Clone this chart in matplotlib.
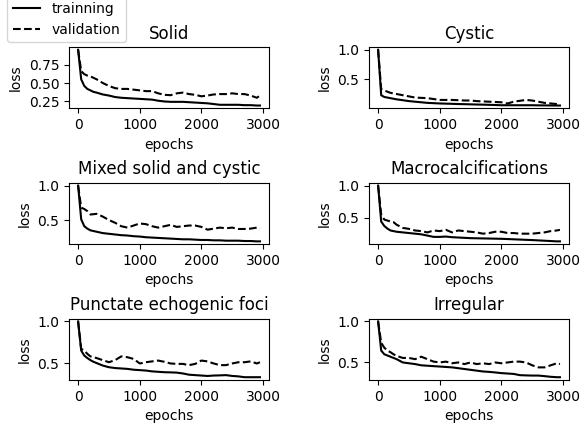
import matplotlib
matplotlib.use("Agg")
import matplotlib.pyplot as plt

epochs = [0, 50, 100, 150, 200, 250, 300, 400, 500, 600, 700, 800, 900, 1000,
          1100, 1200, 1300, 1400, 1500, 1600, 1700, 1800, 1900, 2000, 2100,
          2200, 2300, 2400, 2500, 2600, 2700, 2800, 2900, 2950]

titles = ["Solid", "Cystic", "Mixed solid and cystic", "Macrocalcifications",
          "Punctate echogenic foci", "Irregular"]

solid_train = [0.95, 0.55, 0.46, 0.42, 0.40, 0.38, 0.37, 0.345, 0.33, 0.31, 0.30, 0.295,
               0.29, 0.285, 0.28, 0.275, 0.26, 0.25, 0.245, 0.245, 0.245, 0.24, 0.235,
               0.23, 0.225, 0.215, 0.205, 0.205, 0.205, 0.205, 0.20, 0.20, 0.195, 0.195]
solid_val = [0.95, 0.66, 0.62, 0.60, 0.59, 0.57, 0.55, 0.50, 0.46, 0.43, 0.42, 0.42,
             0.41, 0.40, 0.39, 0.39, 0.36, 0.34, 0.335, 0.36, 0.37, 0.35, 0.34,
             0.32, 0.33, 0.345, 0.35, 0.35, 0.36, 0.35, 0.35, 0.33, 0.30, 0.33]

cystic_train = [1.0, 0.23, 0.20, 0.19, 0.18, 0.17, 0.16, 0.145, 0.13, 0.12, 0.11, 0.10,
                0.095, 0.09, 0.087, 0.084, 0.08, 0.078, 0.075, 0.072, 0.07, 0.067, 0.064,
                0.06, 0.06, 0.06, 0.06, 0.06, 0.06, 0.058, 0.057, 0.056, 0.055, 0.055]
cystic_val = [1.0, 0.33, 0.31, 0.29, 0.27, 0.26, 0.25, 0.23, 0.21, 0.19, 0.185, 0.18,
              0.165, 0.15, 0.15, 0.15, 0.145, 0.14, 0.14, 0.13, 0.125, 0.12, 0.115,
              0.11, 0.09, 0.12, 0.135, 0.15, 0.14, 0.12, 0.10, 0.09, 0.08, 0.08]

mixed_train = [1.0, 0.51, 0.41, 0.375, 0.35, 0.34, 0.33, 0.31, 0.30, 0.29, 0.28, 0.275,
               0.265, 0.26, 0.25, 0.245, 0.24, 0.235, 0.23, 0.225, 0.22, 0.22, 0.215,
               0.21, 0.21, 0.205, 0.205, 0.20, 0.20, 0.20, 0.195, 0.195, 0.19, 0.19]
mixed_val = [1.0, 0.68, 0.66, 0.63, 0.58, 0.585, 0.59, 0.55, 0.50, 0.46, 0.41, 0.39,
             0.42, 0.45, 0.44, 0.41, 0.39, 0.41, 0.43, 0.40, 0.41, 0.42, 0.42,
             0.40, 0.36, 0.375, 0.39, 0.38, 0.39, 0.37, 0.37, 0.375, 0.39, 0.375]

macro_train = [1.0, 0.44, 0.37, 0.33, 0.30, 0.29, 0.28, 0.27, 0.26, 0.25, 0.24, 0.22,
               0.20, 0.20, 0.205, 0.195, 0.19, 0.185, 0.18, 0.178, 0.176, 0.174, 0.172,
               0.17, 0.166, 0.162, 0.158, 0.154, 0.15, 0.145, 0.14, 0.135, 0.13, 0.13]
macro_val = [1.0, 0.55, 0.47, 0.455, 0.44, 0.43, 0.39, 0.34, 0.325, 0.30, 0.29, 0.27,
             0.30, 0.29, 0.31, 0.27, 0.30, 0.29, 0.28, 0.27, 0.25, 0.26, 0.28,
             0.28, 0.26, 0.26, 0.25, 0.25, 0.25, 0.26, 0.27, 0.29, 0.30, 0.31]

punct_train = [1.0, 0.65, 0.59, 0.56, 0.535, 0.515, 0.50, 0.47, 0.45, 0.44, 0.435, 0.43,
               0.42, 0.415, 0.41, 0.40, 0.395, 0.39, 0.388, 0.385, 0.375, 0.36, 0.355,
               0.35, 0.345, 0.35, 0.352, 0.355, 0.345, 0.34, 0.33, 0.33, 0.33, 0.33]
punct_val = [1.0, 0.67, 0.65, 0.61, 0.58, 0.57, 0.56, 0.535, 0.51, 0.535, 0.58, 0.57,
             0.55, 0.495, 0.51, 0.52, 0.53, 0.515, 0.495, 0.49, 0.49, 0.475, 0.49,
             0.53, 0.52, 0.495, 0.475, 0.475, 0.495, 0.51, 0.51, 0.52, 0.495, 0.51]

irreg_train = [1.0, 0.645, 0.60, 0.585, 0.57, 0.555, 0.54, 0.50, 0.49, 0.48, 0.465, 0.46,
               0.455, 0.45, 0.445, 0.44, 0.43, 0.42, 0.41, 0.40, 0.39, 0.385, 0.378,
               0.37, 0.365, 0.36, 0.345, 0.342, 0.34, 0.34, 0.333, 0.325, 0.32, 0.32]
irreg_val = [1.0, 0.74, 0.68, 0.645, 0.625, 0.60, 0.58, 0.555, 0.555, 0.54, 0.57, 0.54,
             0.51, 0.50, 0.51, 0.49, 0.50, 0.48, 0.50, 0.48, 0.49, 0.48, 0.50,
             0.49, 0.50, 0.51, 0.51, 0.50, 0.465, 0.44, 0.44, 0.465, 0.49, 0.48]

train_series = [solid_train, cystic_train, mixed_train, macro_train, punct_train, irreg_train]
val_series = [solid_val, cystic_val, mixed_val, macro_val, punct_val, irreg_val]

fig, axes = plt.subplots(3, 2, figsize=(5.82, 4.26), dpi=100)
fig.subplots_adjust(left=0.1186, right=0.9777, top=0.8897, bottom=0.108,
                    hspace=1.215, wspace=0.5)

lines = None
for ax, title, tr, va in zip(axes.flat, titles, train_series, val_series):
    l1, = ax.plot(epochs, tr, color="black", linestyle="-", label="trainning")
    l2, = ax.plot(epochs, va, color="black", linestyle="--", label="validation")
    ax.set_title(title)
    ax.set_xlabel("epochs")
    ax.set_ylabel("loss")
    ax.set_xticks([0, 1000, 2000, 3000])
    lines = (l1, l2)

fig.legend(lines, ["trainning", "validation"], loc="lower left",
           bbox_to_anchor=(0.012, 0.901), borderaxespad=0)

fig.savefig("out.png", dpi=100)
